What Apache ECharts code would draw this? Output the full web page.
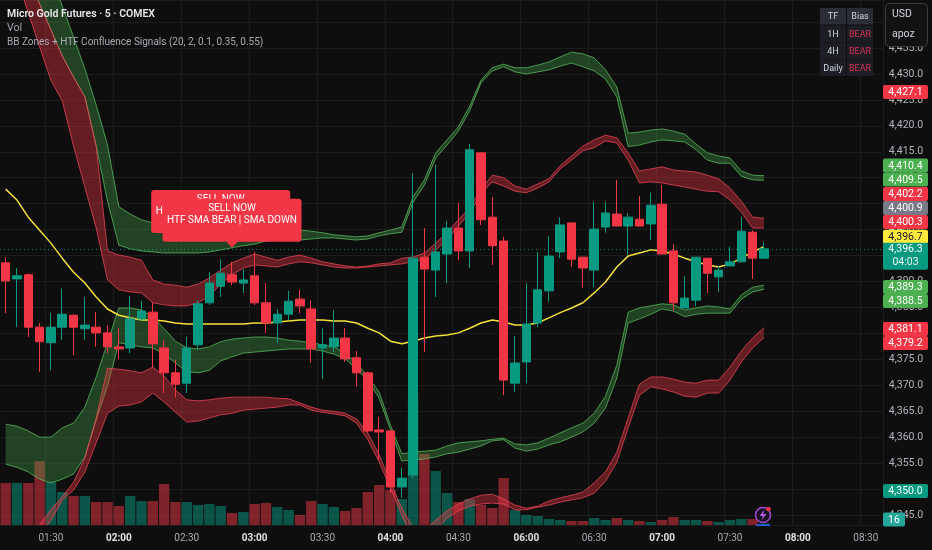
<!DOCTYPE html>
<html><head><meta charset="utf-8">
<script src="https://cdn.jsdelivr.net/npm/echarts@6.0.0/dist/echarts.min.js"></script>
<style>html,body{margin:0;padding:0;background:#0e0e0e;}#c{width:932px;height:550px;}</style>
</head><body><div id="c"></div>
<script>
const categories = ['01:10','01:15','01:20','01:25','01:30','01:35','01:40','01:45','01:50','01:55',
'02:00','02:05','02:10','02:15','02:20','02:25','02:30','02:35','02:40','02:45',
'02:50','02:55','03:00','03:05','03:10','03:15','03:20','03:25','03:30','03:35',
'03:40','03:45','03:50','03:55','04:00','04:05','04:10','04:15','04:20','04:25',
'04:30','04:35','04:40','04:45','04:50','04:55','06:00','06:05','06:10','06:15',
'06:20','06:25','06:30','06:35','06:40','06:45','06:50','06:55','07:00','07:05',
'07:10','07:15','07:20','07:25','07:30','07:35','07:40','07:45','07:50','07:55',
'08:00','08:05','08:10','08:15','08:20','08:25','08:30','08:35'];

const open = [4393.6,4390.5,4391.3,4381.2,4378.2,4381.2,4383.5,4380.9,4381.2,4380.1,
4377.4,4377.2,4382.8,4384.1,4377.2,4372.4,4370.4,4377.8,4385.9,4389.1,
4391.3,4389.7,4391.1,4385.9,4382.0,4383.7,4386.6,4384.7,4377.2,4377.4,
4379.1,4375.3,4372.4,4361.4,4361.2,4350.4,4352.7,4394.7,4392.2,4395.3,
4400.3,4395.9,4414.8,4402.4,4397.8,4370.4,4374.5,4382.0,4388.2,4395.7,
4401.3,4394.7,4392.2,4400.5,4403.0,4400.7,4402.0,4401.1,4404.9,4395.9,
4384.9,4386.4,4394.5,4390.9,4393.0,4393.8,4399.5,4394.5];
const close = [4390.1,4391.1,4381.2,4378.4,4381.2,4383.7,4381.2,4381.6,4380.1,4377.4,
4377.0,4382.8,4384.3,4378.0,4372.4,4370.2,4377.2,4385.7,4389.7,4391.6,
4389.9,4390.3,4385.9,4382.0,4383.7,4386.2,4385.3,4377.0,4377.8,4379.1,
4375.1,4372.4,4361.2,4361.0,4350.4,4352.1,4394.5,4392.4,4395.7,4400.3,
4395.9,4415.4,4401.9,4396.9,4371.0,4374.3,4381.8,4388.4,4394.9,4400.9,
4394.3,4392.6,4400.1,4403.2,4400.7,4402.4,4400.7,4404.7,4395.3,4385.9,
4386.8,4394.7,4391.6,4392.2,4393.8,4399.7,4394.5,4396.3];
const low = [4383.9,4381.2,4379.3,4372.6,4372.9,4378.7,4375.8,4378.7,4377.4,4376.2,
4375.0,4376.2,4382.4,4373.5,4368.5,4367.7,4368.5,4377.0,4385.5,4387.0,
4389.3,4387.8,4385.5,4380.1,4378.2,4382.6,4383.9,4374.3,4371.2,4376.4,
4374.5,4369.7,4361.0,4355.6,4349.2,4348.3,4352.1,4376.4,4387.0,4389.7,
4394.1,4392.6,4400.9,4393.2,4368.1,4368.7,4370.4,4381.2,4386.1,4394.5,
4392.8,4388.8,4388.9,4399.4,4400.7,4395.1,4400.7,4398.0,4395.3,4384.5,
4384.9,4385.3,4387.8,4388.0,4393.0,4393.8,4390.5,4394.5];
const high = [4394.7,4392.6,4391.6,4382.0,4383.9,4388.6,4383.7,4387.0,4384.1,4381.6,
4381.0,4387.2,4386.3,4385.9,4378.7,4374.9,4379.3,4386.4,4391.8,4394.3,
4393.8,4392.4,4395.7,4389.7,4384.7,4388.2,4388.4,4386.4,4381.0,4384.5,
4381.0,4376.6,4372.6,4363.9,4361.4,4354.2,4410.9,4400.3,4412.5,4401.7,
4405.1,4416.5,4414.8,4406.3,4398.6,4379.5,4389.7,4395.7,4398.8,4402.4,
4401.3,4394.7,4405.3,4405.3,4409.6,4403.2,4406.5,4407.1,4408.6,4397.2,
4391.1,4394.7,4394.5,4393.0,4396.7,4402.4,4399.9,4397.6];
const volume = [420,420,420,640,430,330,290,290,230,230,
190,290,240,240,410,230,230,200,210,190,
120,130,210,220,180,150,100,240,210,180,
140,170,330,400,350,260,1310,710,540,320,
230,260,200,170,470,150,100,90,60,50,
40,40,70,50,70,50,40,30,50,80,
50,50,40,30,50,60,60,16];

const basis = [4407.8,4405.7,4402.4,4399.9,4397.4,4394.5,4391.8,4389.7,4387.0,4384.7,
4383.5,4383.0,4382.6,4382.6,4382.4,4382.0,4381.8,4381.8,4381.8,4381.8,
4381.8,4381.8,4382.0,4382.0,4382.2,4382.4,4382.6,4382.6,4382.6,4382.4,
4382.4,4382.0,4381.0,4380.1,4378.5,4378.0,4378.5,4379.1,4379.5,4379.7,
4380.1,4381.0,4382.0,4382.6,4382.2,4381.6,4381.6,4382.0,4383.0,4384.0,
4384.9,4385.9,4387.8,4389.9,4392.8,4394.9,4395.5,4396.1,4395.9,4395.3,
4394.5,4393.8,4393.2,4392.8,4393.4,4394.5,4395.7,4396.7];

const upperGreenTop = [4473.2,4467.0,4461.0,4455.1,4449.1,4443.1,4437.1,4431.0,4424.0,4416.3,
4404.4,4403.0,4401.9,4401.3,4400.7,4400.3,4400.1,4399.9,4399.9,4399.9,
4399.9,4399.9,4399.9,4399.9,4399.9,4399.9,4399.9,4399.7,4399.4,4399.0,
4398.8,4398.6,4398.8,4399.4,4399.9,4400.5,4406.3,4409.6,4414.8,4417.3,
4419.8,4423.8,4428.8,4431.2,4431.9,4431.2,4431.2,4431.7,4432.3,4433.3,
4434.2,4433.9,4433.1,4430.8,4427.5,4418.6,4418.8,4419.2,4419.4,4419.0,
4418.4,4416.5,4414.8,4414.2,4413.8,4411.3,4410.5,4410.4];
const upperGreenBottom = [4458.7,4453.7,4448.7,4443.5,4438.5,4433.5,4429.4,4425.6,4416.1,4405.5,
4397.0,4396.3,4395.9,4395.7,4395.5,4395.5,4395.5,4395.5,4395.7,4396.1,
4396.5,4396.9,4397.2,4397.8,4398.0,4398.0,4398.0,4398.2,4398.4,4398.4,
4398.2,4398.0,4398.2,4398.8,4399.2,4399.5,4405.3,4408.6,4413.8,4416.3,
4419.0,4422.9,4428.3,4430.6,4431.4,4430.4,4430.0,4430.4,4430.8,4431.5,
4432.1,4431.4,4430.6,4429.0,4425.6,4416.0,4416.3,4416.9,4417.3,4417.1,
4416.9,4415.4,4413.4,4412.8,4412.8,4410.3,4409.6,4409.5];
const upperRedTop = [4458.7,4453.7,4448.7,4443.5,4438.5,4433.5,4429.4,4425.6,4416.1,4395.9,
4395.1,4394.7,4394.1,4390.3,4389.5,4389.3,4388.9,4389.5,4390.7,4392.2,
4393.6,4394.5,4395.3,4394.7,4394.1,4394.7,4395.1,4394.5,4393.8,4393.4,
4393.0,4392.8,4393.0,4393.4,4393.6,4394.5,4394.7,4395.5,4397.4,4399.4,
4401.9,4404.2,4407.8,4410.5,4410.0,4408.4,4407.8,4408.8,4409.8,4412.3,
4414.2,4416.1,4417.3,4418.2,4417.7,4414.8,4411.3,4411.7,4412.1,4411.5,
4411.3,4411.1,4410.5,4409.8,4408.0,4405.5,4402.4,4402.2];
const upperRedBottom = [4455.1,4448.3,4441.8,4435.2,4428.8,4424.8,4416.1,4408.2,4400.3,4390.3,
4388.4,4388.0,4387.8,4385.9,4385.5,4385.3,4385.3,4385.9,4387.2,4389.5,
4391.3,4392.6,4393.2,4393.0,4392.8,4393.4,4393.8,4393.6,4393.2,4392.8,
4392.6,4392.6,4392.8,4393.0,4393.2,4393.4,4393.8,4394.3,4396.1,4398.0,
4400.7,4403.2,4406.9,4409.2,4408.4,4407.4,4407.1,4408.0,4409.2,4411.7,
4413.4,4415.2,4415.8,4417.1,4416.7,4413.4,4409.0,4409.2,4409.0,4408.6,
4408.2,4407.8,4407.4,4407.3,4405.7,4403.4,4400.3,4400.3];
const lowerGreenTop = [4362.5,4362.1,4361.2,4360.0,4360.0,4361.8,4362.7,4365.8,4371.6,4378.2,
4384.9,4384.9,4384.5,4383.2,4380.9,4378.5,4377.2,4377.0,4377.4,4378.4,
4378.9,4379.1,4379.3,4379.3,4379.1,4378.7,4378.5,4378.2,4377.8,4377.4,
4376.2,4374.3,4371.6,4368.7,4362.3,4356.8,4357.1,4357.3,4357.5,4358.3,
4358.9,4359.1,4359.3,4359.6,4359.8,4358.7,4358.5,4358.9,4359.8,4360.8,
4361.8,4362.7,4364.6,4367.9,4373.9,4384.1,4384.9,4385.3,4385.7,4385.5,
4384.5,4384.9,4385.3,4385.1,4384.7,4387.4,4388.9,4389.3];
const lowerGreenBottom = [4354.8,4354.2,4353.3,4351.9,4351.2,4351.9,4352.9,4356.2,4363.3,4369.9,
4378.2,4377.8,4377.4,4377.2,4376.0,4374.3,4372.6,4372.4,4372.9,4374.7,
4375.5,4376.2,4376.4,4376.6,4376.8,4377.0,4377.0,4377.0,4376.6,4376.0,
4375.1,4373.1,4371.0,4367.5,4361.4,4355.4,4355.6,4355.8,4356.2,4356.8,
4357.1,4357.7,4358.3,4359.3,4359.5,4357.9,4357.3,4357.7,4358.5,4359.1,
4360.0,4361.0,4362.7,4365.6,4371.4,4382.0,4382.8,4383.7,4384.7,4384.3,
4383.2,4383.7,4383.9,4383.9,4383.9,4386.6,4388.0,4388.5];
const lowerRedTop = [4328.6,4334.4,4339.2,4343.1,4346.0,4348.5,4351.3,4356.0,4363.7,4373.3,
4373.1,4372.8,4372.4,4373.5,4371.8,4369.1,4367.2,4367.0,4367.2,4367.5,
4367.7,4367.7,4367.7,4367.7,4367.5,4367.4,4366.6,4365.8,4365.2,4365.0,
4364.6,4363.5,4360.8,4356.6,4351.3,4346.3,4342.5,4342.1,4344.0,4345.8,
4347.1,4348.1,4348.8,4349.0,4348.1,4346.9,4346.3,4346.7,4347.7,4348.3,
4348.8,4349.4,4351.2,4353.3,4357.1,4363.7,4370.2,4371.6,4371.6,4371.2,
4370.6,4370.4,4371.0,4371.0,4373.5,4376.6,4379.1,4381.1];
const lowerRedBottom = [4324.8,4330.5,4336.3,4341.1,4344.0,4347.9,4349.8,4353.3,4358.9,4364.6,
4366.0,4366.2,4366.8,4368.5,4366.8,4364.8,4362.9,4363.1,4363.7,4364.3,
4364.6,4365.2,4365.4,4365.6,4365.8,4366.2,4366.2,4365.2,4364.8,4364.5,
4364.1,4362.7,4359.5,4355.2,4350.2,4345.0,4340.2,4340.2,4342.1,4344.4,
4345.8,4346.7,4347.1,4347.3,4347.1,4346.0,4346.0,4346.5,4346.9,4347.5,
4347.9,4348.3,4349.2,4351.5,4355.2,4361.8,4368.1,4369.7,4369.3,4368.7,
4367.9,4367.7,4368.5,4368.5,4371.0,4374.5,4377.2,4379.2];

const lastPrice = 4396.3;
const countdown = '04:03';
const lastVolumeText = '16';
const tagText = ['4,427.1','4,410.4','4,409.5','4,402.2','4,400.9','4,400.3','4,396.7','4,389.3','4,388.5','4,381.1','4,379.2','4,350.0'];
const tagColor = ['#f23645','#4caf50','#4caf50','#f23645','#787b86','#f23645','#ffeb3b','#4caf50','#4caf50','#f23645','#f23645','#089981'];
const tagTextColor = ['#fff','#fff','#fff','#fff','#fff','#fff','#131722','#fff','#fff','#fff','#fff','#fff'];
const tagLayoutY = [92,165.5,179.5,194,208,222,236.7,287,301,329,343,491];

const signalIndex = [19, 20];
const signalPrice = [4398.2, 4396.5];
const signalLines = ['SELL NOW', 'HTF SMA BEAR | SMA DOWN'];
const tableRows = [['TF','Bias'],['1H','BEAR'],['4H','BEAR'],['Daily','BEAR']];
const titleLines = ['Micro Gold Futures · 5 · COMEX', 'Vol', 'BB Zones + HTF Confluence Signals (20, 2, 0.1, 0.35, 0.55)'];

const UP = '#089981', DOWN = '#f23645';
const FONT = 'Roboto, "Noto Sans", sans-serif';
const chart = echarts.init(document.getElementById('c'), null, {renderer: 'canvas'});

function band(top, bot, fill, stroke) {
  return {
    type: 'custom', clip: true, silent: true, z: 2,
    xAxisIndex: 0, yAxisIndex: 0,
    data: [[0, top[0]]],
    renderItem: function (params, api) {
      const a = top.map((v, i) => api.coord([i, v]));
      const b = bot.map((v, i) => api.coord([i, v]));
      return {
        type: 'group',
        children: [
          {type: 'polygon', shape: {points: a.concat(b.slice().reverse())}, style: {fill: fill, stroke: null}},
          {type: 'polyline', shape: {points: a}, style: {stroke: stroke, lineWidth: 1, fill: null}},
          {type: 'polyline', shape: {points: b}, style: {stroke: stroke, lineWidth: 1, fill: null}}
        ]
      };
    }
  };
}

const isLabel = (idx, v) => v.endsWith(':00') || v.endsWith(':30');
const greenFill = 'rgba(76,175,80,0.33)', greenLine = 'rgba(92,190,96,0.75)';
const redFill = 'rgba(242,54,69,0.38)', redLine = 'rgba(242,70,90,0.75)';

const option = {
  animation: false,
  backgroundColor: '#0e0e0e',
  grid: {left: -2.2, top: 0, width: 885, height: 525},
  xAxis: {
    type: 'category', data: categories, boundaryGap: true,
    axisLine: {show: false}, axisTick: {show: false},
    axisLabel: {
      interval: isLabel, margin: 8, fontFamily: FONT, fontSize: 10,
      formatter: v => v.endsWith(':00') ? '{b|' + v + '}' : '{n|' + v + '}',
      rich: {b: {fontWeight: 'bold', color: '#dfe1e6', fontSize: 10, fontFamily: FONT},
             n: {color: '#a9acb4', fontSize: 10, fontFamily: FONT}}
    },
    splitLine: {show: true, interval: isLabel, lineStyle: {color: '#1c1c1c', width: 1}}
  },
  yAxis: [{
    type: 'value', position: 'right', min: 4343.07, max: 4444.26, splitNumber: 20, scale: true,
    axisLine: {show: false}, axisTick: {show: false},
    axisLabel: {
      margin: 6, color: '#b2b5be', fontFamily: FONT, fontSize: 10.5,
      showMinLabel: false, showMaxLabel: false,
      formatter: v => v.toLocaleString('en-US', {minimumFractionDigits: 1, maximumFractionDigits: 1})
    },
    splitLine: {lineStyle: {color: '#1c1c1c', width: 1}}
  }, {
    type: 'value', min: 0, max: 5250, show: false, splitLine: {show: false}
  }],
  series: [
    {
      type: 'bar', yAxisIndex: 1, barWidth: '92%', z: 1, silent: true,
      data: volume.map((v, i) => ({value: v, itemStyle: {color: close[i] >= open[i] ? 'rgba(8,153,129,0.5)' : 'rgba(242,54,69,0.5)'}}))
    },
    band(upperGreenTop, upperGreenBottom, greenFill, greenLine),
    band(upperRedTop, upperRedBottom, redFill, redLine),
    band(lowerGreenTop, lowerGreenBottom, greenFill, greenLine),
    band(lowerRedTop, lowerRedBottom, redFill, redLine),
    {
      type: 'line', data: basis, showSymbol: false, z: 3, silent: true,
      lineStyle: {color: '#f5df3a', width: 1.5}
    },
    {
      type: 'candlestick', z: 5, barWidth: 9, silent: true,
      data: open.map((o, i) => [o, close[i], low[i], high[i]]),
      itemStyle: {color: UP, color0: DOWN, borderColor: UP, borderColor0: DOWN, borderWidth: 1},
      markLine: {
        symbol: 'none', silent: true, label: {show: false},
        lineStyle: {color: UP, type: [1, 3], width: 1, opacity: 0.9},
        data: [{yAxis: lastPrice}]
      }
    }
  ]
};
chart.setOption(option);

function txt(x, y, text, opts) {
  opts = opts || {};
  return {type: 'text', x: x, y: y, z: opts.z || 100, silent: true,
    style: {text: text, fill: opts.color || '#d1d4dc', fontSize: opts.size || 10.5, fontFamily: FONT,
      fontWeight: opts.weight || 'normal', textAlign: opts.align || 'left', align: opts.align || 'left',
      textVerticalAlign: 'middle', verticalAlign: 'middle'}};
}
function rect(x, y, w, h, fill, opts) {
  opts = opts || {};
  return {type: 'rect', z: opts.z || 100, silent: true, shape: {x: x, y: y, width: w, height: h, r: opts.r || 0},
    style: {fill: fill, stroke: opts.stroke || null, lineWidth: opts.lw || 1}};
}

const g = [];
// legend / title lines
g.push(txt(7, 14, titleLines[0], {weight: 600, color: '#e6e8ec', size: 10.5}));
g.push(txt(7, 28, titleLines[1], {color: '#a9acb4', size: 10.5}));
g.push(txt(7, 42, titleLines[2], {color: '#a9acb4', size: 10}));

// signal labels
signalIndex.forEach((idx, k) => {
  const p = chart.convertToPixel({gridIndex: 0}, [idx, signalPrice[k]]);
  const px = p[0], py = p[1], z = 110 + k * 5;
  g.push({type: 'polygon', z: z, silent: true, shape: {points: [[px - 6, py - 6.5], [px + 6, py - 6.5], [px, py]]}, style: {fill: DOWN}});
  g.push(rect(px - 69.5, py - 49, 139, 43, DOWN, {z: z, r: 3}));
  g.push(txt(px, py - 39, signalLines[0], {z: z + 1, align: 'center', color: '#ffffff', size: 10}));
  g.push(txt(px, py - 27.5, signalLines[1], {z: z + 1, align: 'center', color: '#ffffff', size: 10}));
});

// price tags on the axis
tagText.forEach((t, k) => {
  g.push(rect(883, tagLayoutY[k] - 7, 45, 14, tagColor[k], {r: 2}));
  g.push(txt(905.5, tagLayoutY[k] + 0.5, t, {align: 'center', color: tagTextColor[k], size: 10.5}));
});
const lastY = chart.convertToPixel({gridIndex: 0}, [0, lastPrice])[1];
g.push(rect(883, lastY - 6, 45, 27, UP, {r: 2}));
g.push(txt(905.5, lastY + 1, lastPrice.toLocaleString('en-US', {minimumFractionDigits: 1}), {align: 'center', color: '#fff'}));
g.push(txt(905.5, lastY + 13.5, countdown, {align: 'center', color: '#e8f5f2'}));
g.push(rect(883, 512.5, 22, 14, '#26a69a', {r: 2}));
g.push(txt(894, 520, lastVolumeText, {align: 'center', color: '#fff'}));

// TF / Bias table
const colX = [820, 847], colW = [26, 26], rowY = [8, 25.5, 42.5, 59.5], rowH = 16.5;
tableRows.forEach((row, r) => {
  row.forEach((cell, c) => {
    g.push(rect(colX[c], rowY[r], colW[c], rowH, r === 0 ? '#2a2d35' : '#1c1e24'));
    const col = (r > 0 && c === 1) ? '#d63352' : '#d1d4dc';
    g.push(txt(colX[c] + colW[c] / 2, rowY[r] + rowH / 2 + 0.5, cell, {align: 'center', color: col, size: 9}));
  });
});

// currency / unit box
g.push(rect(885.5, 3.5, 42, 43, '#121212', {r: 4, stroke: '#3a3d45', z: 101}));
g.push(txt(892, 14, 'USD', {color: '#d1d4dc', z: 102}));
g.push(txt(892, 34, 'apoz', {color: '#d1d4dc', z: 102}));

// lightning icon
g.push({type: 'circle', z: 100, silent: true, shape: {cx: 763, cy: 515, r: 7.5}, style: {fill: '#1a1024', stroke: '#a24bd1', lineWidth: 1.5}});
g.push({type: 'polygon', z: 101, silent: true, shape: {points: [[764.5, 509.5], [759.5, 516], [762.8, 516], [761.5, 520.5], [766.5, 514], [763.2, 514]]}, style: {fill: '#b55ce0'}});
g.push({type: 'circle', z: 102, silent: true, shape: {cx: 768.5, cy: 509, r: 2.3}, style: {fill: '#f23645'}});
g.push(rect(756, 524.5, 14, 1.5, '#2962ff', {z: 100}));

chart.setOption({graphic: g});
</script>
</body></html>
